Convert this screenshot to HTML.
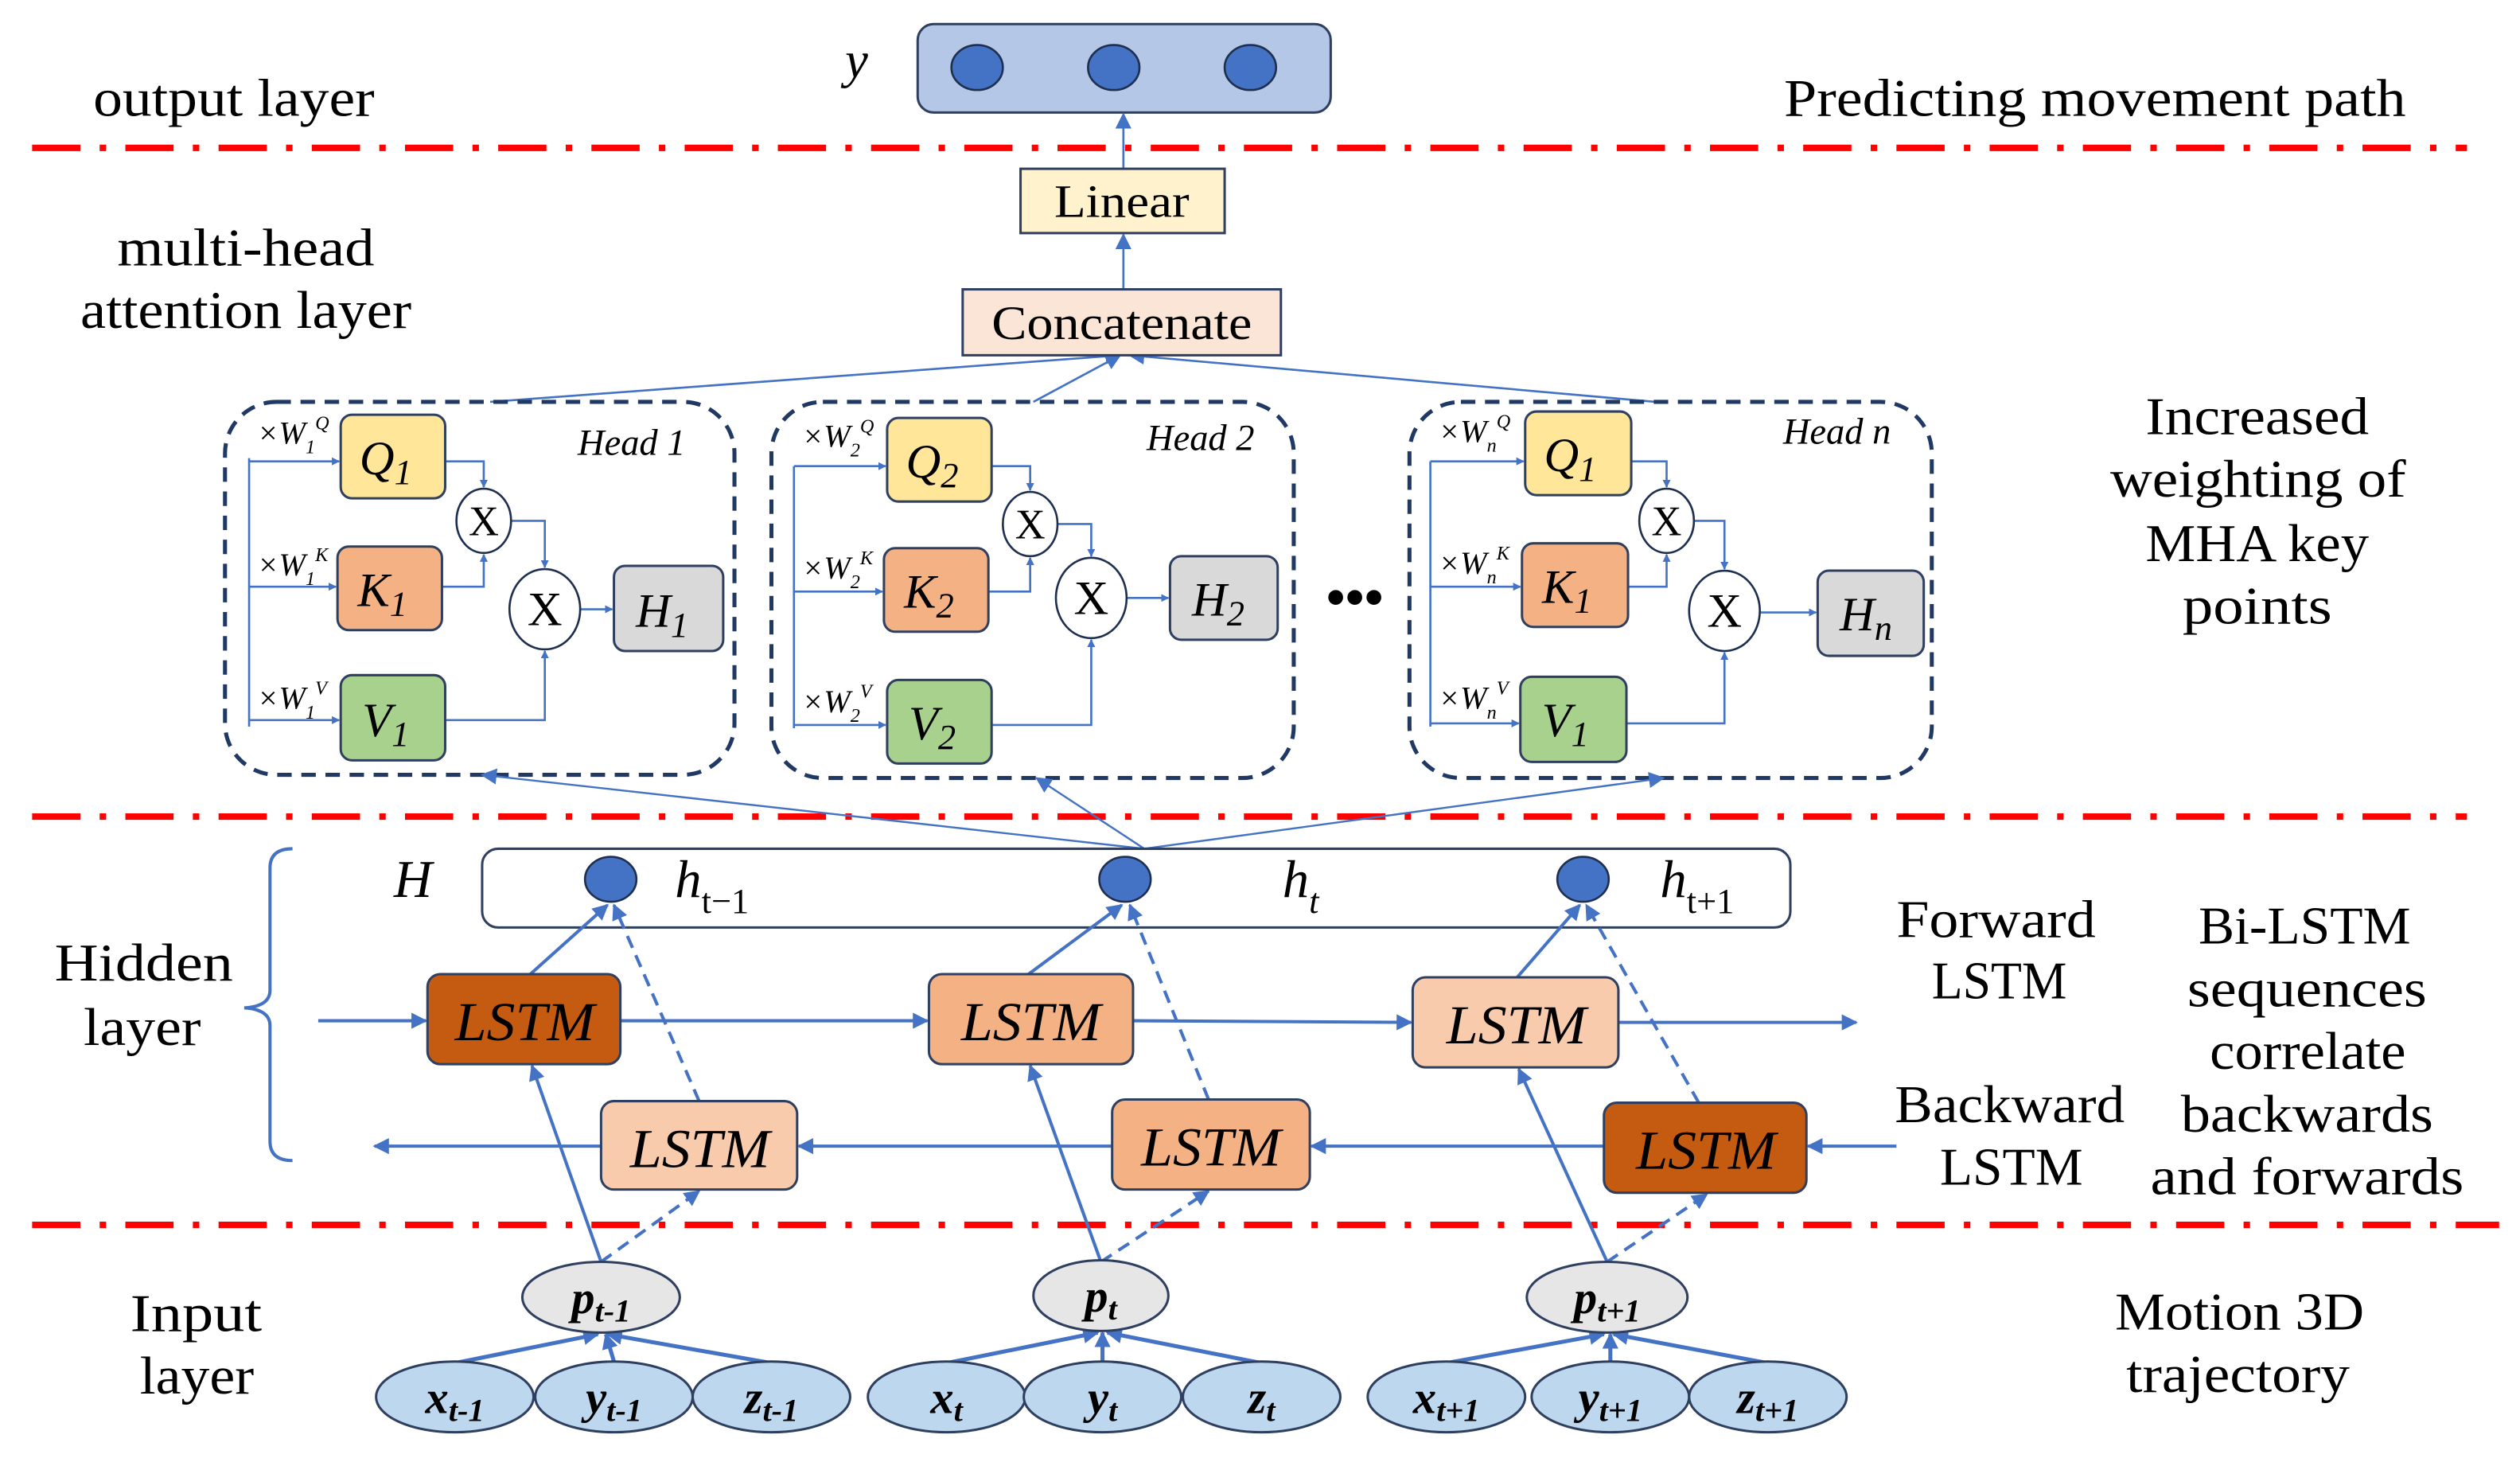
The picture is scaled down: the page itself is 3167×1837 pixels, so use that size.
<!DOCTYPE html>
<html><head><meta charset="utf-8"><style>
html,body{margin:0;padding:0;background:#fff}
svg{display:block}
text{font-family:"Liberation Serif",serif;fill:#000}
.it{font-style:italic}
</style></head><body>
<svg width="3167" height="1837" viewBox="0 0 1568 909.5" preserveAspectRatio="none" xmlns="http://www.w3.org/2000/svg">
<defs>
<marker id="a" viewBox="0 0 10 10" refX="9" refY="5" markerWidth="5" markerHeight="5" orient="auto-start-reverse" markerUnits="userSpaceOnUse"><path d="M0,0L10,5L0,10z" fill="#4472c4"/></marker>
<marker id="b" viewBox="0 0 10 10" refX="9" refY="5" markerWidth="10" markerHeight="10" orient="auto" markerUnits="userSpaceOnUse"><path d="M0,0L10,5L0,10z" fill="#4472c4"/></marker>
</defs>
<g stroke="#ff0000" stroke-width="4" stroke-dasharray="30 12 4 12" fill="none">
<line x1="20" y1="92" x2="1535" y2="92"/>
<line x1="20" y1="508" x2="1535" y2="508"/>
<line x1="20" y1="762" x2="1555" y2="762"/>
</g>
<!-- output -->
<rect x="571" y="15" width="257" height="55" rx="10" fill="#b4c7e7" stroke="#2f3f5f" stroke-width="1.5"/>
<g fill="#4472c4" stroke="#1f2f4f" stroke-width="1.3">
<ellipse cx="608" cy="42" rx="16" ry="14"/><ellipse cx="693" cy="42" rx="16" ry="14"/><ellipse cx="778" cy="42" rx="16" ry="14"/>
</g>
<text x="533" y="48" font-size="32" class="it" text-anchor="middle">y</text>
<g font-size="33" lengthAdjust="spacingAndGlyphs">
<text x="58" y="72" textLength="175" lengthAdjust="spacingAndGlyphs">output layer</text>
<text x="1110" y="72" textLength="387" lengthAdjust="spacingAndGlyphs">Predicting movement path</text>
<text x="73" y="165" textLength="160" lengthAdjust="spacingAndGlyphs">multi-head</text>
<text x="50" y="204" textLength="206" lengthAdjust="spacingAndGlyphs">attention layer</text>
<text x="1335" y="270" textLength="139" lengthAdjust="spacingAndGlyphs">Increased</text>
<text x="1313" y="309" textLength="184" lengthAdjust="spacingAndGlyphs">weighting of</text>
<text x="1335" y="349" textLength="139" lengthAdjust="spacingAndGlyphs">MHA key</text>
<text x="1358" y="388" textLength="93" lengthAdjust="spacingAndGlyphs">points</text>
<text x="34" y="610" textLength="111" lengthAdjust="spacingAndGlyphs">Hidden</text>
<text x="52" y="650" textLength="73" lengthAdjust="spacingAndGlyphs">layer</text>
<text x="1180" y="583" textLength="124" lengthAdjust="spacingAndGlyphs">Forward</text>
<text x="1202" y="621" textLength="84" lengthAdjust="spacingAndGlyphs">LSTM</text>
<text x="1179" y="698" textLength="143" lengthAdjust="spacingAndGlyphs">Backward</text>
<text x="1207" y="737" textLength="89" lengthAdjust="spacingAndGlyphs">LSTM</text>
<text x="1368" y="587" textLength="132" lengthAdjust="spacingAndGlyphs">Bi-LSTM</text>
<text x="1361" y="626" textLength="149" lengthAdjust="spacingAndGlyphs">sequences</text>
<text x="1375" y="665" textLength="122" lengthAdjust="spacingAndGlyphs">correlate</text>
<text x="1357" y="704" textLength="157" lengthAdjust="spacingAndGlyphs">backwards</text>
<text x="1338" y="743" textLength="195" lengthAdjust="spacingAndGlyphs">and forwards</text>
<text x="81" y="828" textLength="82" lengthAdjust="spacingAndGlyphs">Input</text>
<text x="87" y="867" textLength="71" lengthAdjust="spacingAndGlyphs">layer</text>
<text x="1316" y="827" textLength="155" lengthAdjust="spacingAndGlyphs">Motion 3D</text>
<text x="1323" y="866" textLength="139" lengthAdjust="spacingAndGlyphs">trajectory</text>
</g>
<g stroke="#4472c4" stroke-width="1.3" fill="none">
<line x1="699" y1="105" x2="699" y2="71" marker-end="url(#b)"/>
<line x1="699" y1="180" x2="699" y2="146" marker-end="url(#b)"/>
<line x1="305" y1="250" x2="697" y2="221" marker-end="url(#b)"/>
<line x1="643" y1="250" x2="697" y2="221" marker-end="url(#b)"/>
<line x1="1030" y1="250" x2="703" y2="221" marker-end="url(#b)"/>
</g>
<rect x="635" y="105" width="127" height="40" fill="#fff2cc" stroke="#2f3f5f" stroke-width="1.5"/>
<text x="656" y="135" font-size="29" textLength="84" lengthAdjust="spacingAndGlyphs">Linear</text>
<rect x="599" y="180" width="198" height="41" fill="#fbe5d6" stroke="#2f3f5f" stroke-width="1.5"/>
<text x="617" y="211" font-size="30" textLength="162" lengthAdjust="spacingAndGlyphs">Concatenate</text>
<!-- heads -->
<g fill="none" stroke="#203864" stroke-width="2.5" stroke-dasharray="9 6">
<rect x="140" y="250" width="317" height="232" rx="32"/>
<rect x="480" y="250" width="325" height="234" rx="32"/>
<rect x="877" y="250" width="325" height="234" rx="32"/>
</g>
<text x="843" y="383" font-size="34" text-anchor="middle" font-weight="bold">•••</text>

<!-- Head 1 -->
<g>
<g stroke="#4472c4" stroke-width="1.3" fill="none">
<polyline points="155,285 155,452"/>
<line x1="155" y1="287" x2="211" y2="287" marker-end="url(#a)"/>
<line x1="155" y1="365" x2="209" y2="365" marker-end="url(#a)"/>
<line x1="155" y1="448" x2="211" y2="448" marker-end="url(#a)"/>
<polyline points="277,287 301,287 301,303" marker-end="url(#a)"/>
<polyline points="275,365 301,365 301,345" marker-end="url(#a)"/>
<polyline points="318,324 339,324 339,353" marker-end="url(#a)"/>
<polyline points="277,448 339,448 339,405" marker-end="url(#a)"/>
<line x1="361" y1="379" x2="381" y2="379" marker-end="url(#a)"/>
</g>
<rect x="212" y="258" width="65" height="52" rx="7" fill="#ffe699" stroke="#2f3f5f" stroke-width="1.5"/>
<rect x="210" y="340" width="65" height="52" rx="7" fill="#f4b183" stroke="#2f3f5f" stroke-width="1.5"/>
<rect x="212" y="420" width="65" height="53" rx="7" fill="#a9d18e" stroke="#2f3f5f" stroke-width="1.5"/>
<rect x="382" y="352" width="68" height="53" rx="7" fill="#d9d9d9" stroke="#2f3f5f" stroke-width="1.5"/>
<ellipse cx="301" cy="324" rx="17" ry="20" fill="#fff" stroke="#1f2f4f" stroke-width="1.3"/>
<ellipse cx="339" cy="379" rx="22" ry="25" fill="#fff" stroke="#1f2f4f" stroke-width="1.3"/>
<g font-size="26" text-anchor="middle"><text x="301" y="333">X</text><text x="339" y="389" font-size="30">X</text></g>
<g class="it" font-size="30" text-anchor="middle">
<text x="240" y="295">Q<tspan font-size="22" dy="6">1</tspan></text>
<text x="238" y="377">K<tspan font-size="22" dy="6">1</tspan></text>
<text x="240" y="458">V<tspan font-size="22" dy="6">1</tspan></text>
<text x="412" y="390">H<tspan font-size="22" dy="6">1</tspan></text>
</g>
<text x="393" y="283" class="it" font-size="23" text-anchor="middle">Head 1</text>
<g font-size="20" class="it"><text x="160" y="276">×W<tspan font-size="12" dy="6">1</tspan><tspan font-size="12" dy="-15">Q</tspan></text>
<text x="160" y="358">×W<tspan font-size="12" dy="6">1</tspan><tspan font-size="12" dy="-15">K</tspan></text>
<text x="160" y="441">×W<tspan font-size="12" dy="6">1</tspan><tspan font-size="12" dy="-15">V</tspan></text></g>
</g>
<!-- Head 2 -->
<g>
<g stroke="#4472c4" stroke-width="1.3" fill="none">
<polyline points="494,290 494,453"/>
<line x1="494" y1="290" x2="551" y2="290" marker-end="url(#a)"/>
<line x1="494" y1="368" x2="549" y2="368" marker-end="url(#a)"/>
<line x1="494" y1="451" x2="551" y2="451" marker-end="url(#a)"/>
<polyline points="617,290 641,290 641,305" marker-end="url(#a)"/>
<polyline points="615,368 641,368 641,347" marker-end="url(#a)"/>
<polyline points="658,326 679,326 679,346" marker-end="url(#a)"/>
<polyline points="617,451 679,451 679,398" marker-end="url(#a)"/>
<line x1="701" y1="372" x2="727" y2="372" marker-end="url(#a)"/>
</g>
<rect x="552" y="260" width="65" height="52" rx="7" fill="#ffe699" stroke="#2f3f5f" stroke-width="1.5"/>
<rect x="550" y="341" width="65" height="52" rx="7" fill="#f4b183" stroke="#2f3f5f" stroke-width="1.5"/>
<rect x="552" y="423" width="65" height="52" rx="7" fill="#a9d18e" stroke="#2f3f5f" stroke-width="1.5"/>
<rect x="728" y="346" width="67" height="52" rx="7" fill="#d9d9d9" stroke="#2f3f5f" stroke-width="1.5"/>
<ellipse cx="641" cy="326" rx="17" ry="20" fill="#fff" stroke="#1f2f4f" stroke-width="1.3"/>
<ellipse cx="679" cy="372" rx="22" ry="25" fill="#fff" stroke="#1f2f4f" stroke-width="1.3"/>
<g font-size="26" text-anchor="middle"><text x="641" y="335">X</text><text x="679" y="382" font-size="30">X</text></g>
<g class="it" font-size="30" text-anchor="middle">
<text x="580" y="297">Q<tspan font-size="22" dy="6">2</tspan></text>
<text x="578" y="378">K<tspan font-size="22" dy="6">2</tspan></text>
<text x="580" y="460">V<tspan font-size="22" dy="6">2</tspan></text>
<text x="758" y="383">H<tspan font-size="22" dy="6">2</tspan></text>
</g>
<text x="747" y="280" class="it" font-size="23" text-anchor="middle">Head 2</text>
<g font-size="20" class="it"><text x="499" y="278">×W<tspan font-size="12" dy="6">2</tspan><tspan font-size="12" dy="-15">Q</tspan></text>
<text x="499" y="360">×W<tspan font-size="12" dy="6">2</tspan><tspan font-size="12" dy="-15">K</tspan></text>
<text x="499" y="443">×W<tspan font-size="12" dy="6">2</tspan><tspan font-size="12" dy="-15">V</tspan></text></g>
</g>
<!-- Head n -->
<g>
<g stroke="#4472c4" stroke-width="1.3" fill="none">
<polyline points="890,287 890,452"/>
<line x1="890" y1="287" x2="948" y2="287" marker-end="url(#a)"/>
<line x1="890" y1="365" x2="946" y2="365" marker-end="url(#a)"/>
<line x1="890" y1="450" x2="945" y2="450" marker-end="url(#a)"/>
<polyline points="1015,287 1037,287 1037,303" marker-end="url(#a)"/>
<polyline points="1013,365 1037,365 1037,345" marker-end="url(#a)"/>
<polyline points="1054,324 1073,324 1073,354" marker-end="url(#a)"/>
<polyline points="1012,450 1073,450 1073,406" marker-end="url(#a)"/>
<line x1="1095" y1="381" x2="1130" y2="381" marker-end="url(#a)"/>
</g>
<rect x="949" y="256" width="66" height="52" rx="7" fill="#ffe699" stroke="#2f3f5f" stroke-width="1.5"/>
<rect x="947" y="338" width="66" height="52" rx="7" fill="#f4b183" stroke="#2f3f5f" stroke-width="1.5"/>
<rect x="946" y="421" width="66" height="53" rx="7" fill="#a9d18e" stroke="#2f3f5f" stroke-width="1.5"/>
<rect x="1131" y="355" width="66" height="53" rx="7" fill="#d9d9d9" stroke="#2f3f5f" stroke-width="1.5"/>
<ellipse cx="1037" cy="324" rx="17" ry="20" fill="#fff" stroke="#1f2f4f" stroke-width="1.3"/>
<ellipse cx="1073" cy="380" rx="22" ry="25" fill="#fff" stroke="#1f2f4f" stroke-width="1.3"/>
<g font-size="26" text-anchor="middle"><text x="1037" y="333">X</text><text x="1073" y="390" font-size="30">X</text></g>
<g class="it" font-size="30" text-anchor="middle">
<text x="977" y="293">Q<tspan font-size="22" dy="6">1</tspan></text>
<text x="975" y="375">K<tspan font-size="22" dy="6">1</tspan></text>
<text x="974" y="458">V<tspan font-size="22" dy="6">1</tspan></text>
<text x="1161" y="392">H<tspan font-size="22" dy="6">n</tspan></text>
</g>
<text x="1143" y="276" class="it" font-size="23" text-anchor="middle">Head n</text>
<g font-size="20" class="it"><text x="895" y="275">×W<tspan font-size="12" dy="6">n</tspan><tspan font-size="12" dy="-15">Q</tspan></text>
<text x="895" y="357">×W<tspan font-size="12" dy="6">n</tspan><tspan font-size="12" dy="-15">K</tspan></text>
<text x="895" y="441">×W<tspan font-size="12" dy="6">n</tspan><tspan font-size="12" dy="-15">V</tspan></text></g>
</g>
<!-- hidden to heads -->
<g stroke="#4472c4" stroke-width="1.2" fill="none">
<line x1="712" y1="528" x2="300" y2="482" marker-end="url(#b)"/>
<line x1="712" y1="528" x2="645" y2="484" marker-end="url(#b)"/>
<line x1="712" y1="528" x2="1035" y2="484" marker-end="url(#b)"/>
</g>
<!-- hidden layer -->
<rect x="300" y="528" width="814" height="49" rx="10" fill="#fff" stroke="#2f3f5f" stroke-width="1.5"/>
<g fill="#4472c4" stroke="#1f2f4f" stroke-width="1.3">
<ellipse cx="380" cy="547" rx="16" ry="14"/><ellipse cx="700" cy="547" rx="16" ry="14"/><ellipse cx="985" cy="547" rx="16" ry="14"/>
</g>
<g class="it" font-size="33">
<text x="245" y="558">H</text>
<text x="420" y="558">h<tspan font-size="22" dy="10" font-style="normal">t−1</tspan></text>
<text x="798" y="558">h<tspan font-size="22" dy="10">t</tspan></text>
<text x="1033" y="558">h<tspan font-size="22" dy="10" font-style="normal">t+1</tspan></text>
</g>
<path d="M182,528 Q168,528 168,540 L168,616 Q168,626 152,627 Q168,628 168,638 L168,710 Q168,722 182,722" fill="none" stroke="#4472c4" stroke-width="2"/>
<!-- LSTM arrows -->
<g stroke="#4472c4" stroke-width="2" fill="none">
<line x1="198" y1="635" x2="265" y2="635" marker-end="url(#b)"/>
<line x1="386" y1="635" x2="577" y2="635" marker-end="url(#b)"/>
<line x1="705" y1="635" x2="878" y2="636" marker-end="url(#b)"/>
<line x1="1007" y1="636" x2="1155" y2="636" marker-end="url(#b)"/>
<line x1="1180" y1="713" x2="1125" y2="713" marker-end="url(#b)"/>
<line x1="998" y1="713" x2="816" y2="713" marker-end="url(#b)"/>
<line x1="692" y1="713" x2="497" y2="713" marker-end="url(#b)"/>
<line x1="374" y1="713" x2="233" y2="713" marker-end="url(#b)"/>
<line x1="330" y1="606" x2="378" y2="563" marker-end="url(#b)"/>
<line x1="640" y1="606" x2="698" y2="563" marker-end="url(#b)"/>
<line x1="944" y1="608" x2="983" y2="563" marker-end="url(#b)"/>
<line x1="374" y1="785" x2="331" y2="663" marker-end="url(#b)"/>
<line x1="685" y1="785" x2="641" y2="663" marker-end="url(#b)"/>
<line x1="1000" y1="785" x2="945" y2="665" marker-end="url(#b)"/>
</g>
<g stroke="#4472c4" stroke-width="2" fill="none" stroke-dasharray="8 5">
<line x1="435" y1="685" x2="382" y2="563" marker-end="url(#b)"/>
<line x1="752" y1="684" x2="703" y2="563" marker-end="url(#b)"/>
<line x1="1057" y1="686" x2="987" y2="563" marker-end="url(#b)"/>
<line x1="374" y1="785" x2="435" y2="741" marker-end="url(#b)"/>
<line x1="685" y1="785" x2="752" y2="741" marker-end="url(#b)"/>
<line x1="1000" y1="785" x2="1062" y2="743" marker-end="url(#b)"/>
</g>
<g stroke="#2f3f5f" stroke-width="1.5">
<rect x="266" y="606" width="120" height="56" rx="8" fill="#c55a11"/>
<rect x="578" y="606" width="127" height="56" rx="8" fill="#f4b183"/>
<rect x="879" y="608" width="128" height="56" rx="8" fill="#f8cbad"/>
<rect x="374" y="685" width="122" height="55" rx="8" fill="#f8cbad"/>
<rect x="692" y="684" width="123" height="56" rx="8" fill="#f4b183"/>
<rect x="998" y="686" width="126" height="56" rx="8" fill="#c55a11"/>
</g>
<g class="it" font-size="34">
<text x="283" y="647" textLength="87" lengthAdjust="spacingAndGlyphs">LSTM</text>
<text x="598" y="647" textLength="87" lengthAdjust="spacingAndGlyphs">LSTM</text>
<text x="900" y="649" textLength="87" lengthAdjust="spacingAndGlyphs">LSTM</text>
<text x="392" y="726" textLength="87" lengthAdjust="spacingAndGlyphs">LSTM</text>
<text x="710" y="725" textLength="87" lengthAdjust="spacingAndGlyphs">LSTM</text>
<text x="1018" y="727" textLength="87" lengthAdjust="spacingAndGlyphs">LSTM</text>
</g>
<!-- inputs -->
<g stroke="#4472c4" stroke-width="2.5" fill="none">
<line x1="283" y1="848" x2="372" y2="830" marker-end="url(#b)"/>
<line x1="382" y1="847" x2="377" y2="830" marker-end="url(#b)"/>
<line x1="480" y1="848" x2="378" y2="830" marker-end="url(#b)"/>
<line x1="589" y1="848" x2="683" y2="829" marker-end="url(#b)"/>
<line x1="686" y1="847" x2="686" y2="829" marker-end="url(#b)"/>
<line x1="785" y1="848" x2="689" y2="829" marker-end="url(#b)"/>
<line x1="900" y1="848" x2="998" y2="830" marker-end="url(#b)"/>
<line x1="1002" y1="847" x2="1002" y2="830" marker-end="url(#b)"/>
<line x1="1100" y1="848" x2="1004" y2="830" marker-end="url(#b)"/>
</g>
<g stroke="#2f3f5f" stroke-width="1.5" fill="#e7e6e6">
<ellipse cx="374" cy="807" rx="49" ry="22"/><ellipse cx="685" cy="806" rx="42" ry="22"/><ellipse cx="1000" cy="807" rx="50" ry="22"/>
</g>
<g stroke="#2f3f5f" stroke-width="1.5" fill="#bdd7ee">
<ellipse cx="283" cy="869" rx="49" ry="22"/><ellipse cx="382" cy="869" rx="49" ry="22"/><ellipse cx="480" cy="869" rx="49" ry="22"/>
<ellipse cx="589" cy="869" rx="49" ry="22"/><ellipse cx="686" cy="869" rx="49" ry="22"/><ellipse cx="785" cy="869" rx="49" ry="22"/>
<ellipse cx="900" cy="869" rx="49" ry="22"/><ellipse cx="1002" cy="869" rx="49" ry="22"/><ellipse cx="1100" cy="869" rx="49" ry="22"/>
</g>
<g class="it" font-size="29" font-weight="bold" text-anchor="middle">
<text x="374" y="817">p<tspan font-size="20" dy="5">t-1</tspan></text>
<text x="685" y="816">p<tspan font-size="20" dy="5">t</tspan></text>
<text x="1000" y="817">p<tspan font-size="20" dy="5">t+1</tspan></text>
<text x="283" y="879">x<tspan font-size="20" dy="5">t-1</tspan></text>
<text x="382" y="879">y<tspan font-size="20" dy="5">t-1</tspan></text>
<text x="480" y="879">z<tspan font-size="20" dy="5">t-1</tspan></text>
<text x="589" y="879">x<tspan font-size="20" dy="5">t</tspan></text>
<text x="686" y="879">y<tspan font-size="20" dy="5">t</tspan></text>
<text x="785" y="879">z<tspan font-size="20" dy="5">t</tspan></text>
<text x="900" y="879">x<tspan font-size="20" dy="5">t+1</tspan></text>
<text x="1002" y="879">y<tspan font-size="20" dy="5">t+1</tspan></text>
<text x="1100" y="879">z<tspan font-size="20" dy="5">t+1</tspan></text>
</g>
</svg>
</body></html>
